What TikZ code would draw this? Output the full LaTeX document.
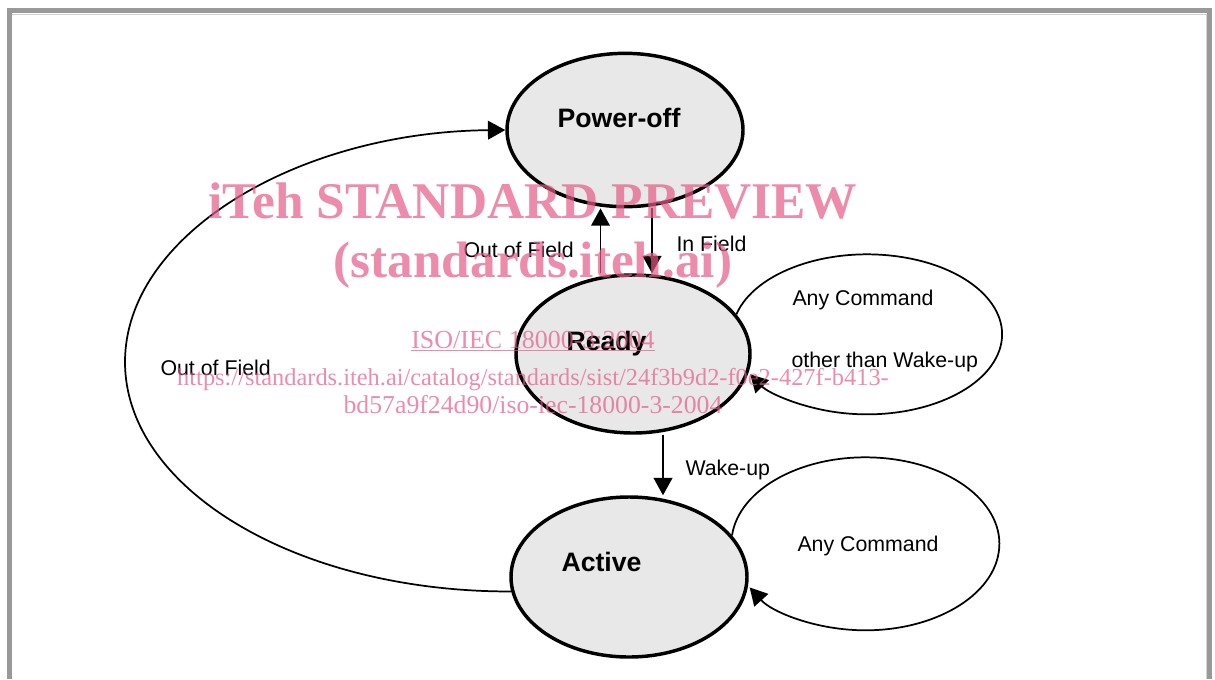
\documentclass[tikz,border=0pt]{standalone}
\usepackage{fontspec}
\setmainfont{Liberation Sans}
\newfontfamily\wmfont{Liberation Serif}
\usetikzlibrary{shapes.geometric,arrows.meta}

\definecolor{framegray}{RGB}{153,153,153}
\definecolor{framelight}{RGB}{210,210,210}
\definecolor{statefill}{RGB}{232,232,232}
\definecolor{wmpink}{RGB}{230,90,134}

\tikzset{
	state/.style={draw, ellipse, fill=statefill, line width=2.6pt, inner sep=0pt},
	statename/.style={font=\fontsize{20}{24}\selectfont\bfseries, anchor=base west, inner sep=0pt},
	edgelabel/.style={font=\fontsize{16}{19}\selectfont, anchor=base west, inner sep=0pt},
	conn/.style={line width=1.3pt},
	watermark/.style={text=wmpink, text opacity=0.7, anchor=base, inner sep=0pt},
	>={Triangle[length=13pt,width=14pt]}}
\tikzset{every picture/.style={line width=0.75pt}}

\begin{document}
\begin{tikzpicture}[x=0.75pt,y=0.75pt,yscale=-1,xscale=1]
	\useasboundingbox (0,0) rectangle (1215,679);

	%Frame
	\draw [framegray, line width=3.75pt, line join=miter] (9.8,679) -- (9.8,10.8) -- (1209.5,10.8) -- (1209.5,679) ;
	\draw [framelight, line width=1pt] (12.3,14.3) -- (1206.3,14.3) -- (1206.3,679) ;

	%States
	\node [state, minimum width=177pt, minimum height=115pt] (poweroff) at (625,130) {};
	\node [state, minimum width=175.5pt, minimum height=118.5pt] (ready) at (633,354) {};
	\node [state, minimum width=177pt, minimum height=120pt] (active) at (629,577) {};

	%Vertical connectors
	\coordinate (outx) at (600.5,0);
	\coordinate (inx) at (652,0);
	\coordinate (wakex) at (663,0);
	\draw [conn, ->] (ready.north -| outx) -- (poweroff.south -| outx) ;
	\draw [conn, ->] (poweroff.south -| inx) -- (ready.north -| inx) ;
	\draw [conn, ->] (ready.south -| wakex) -- (active.north -| wakex) ;

	%Curve back to Power-off
	\coordinate (farleft) at (125,362);
	\draw [conn, ->] (active.187) .. controls (297,592) and (125,489) .. (farleft) .. controls (125,235) and (297,132) .. (poweroff.west) ;

	%Self loops
	\draw [conn, ->] (ready.21) arc [start angle=-165.5, end angle=150, x radius=135, y radius=80] ;
	\draw [conn, ->] (active.22) arc [start angle=-174.4, end angle=149.7, x radius=134, y radius=86.5] ;

	% Text Node
	\node [statename] (poweroff-name) at (557,127) {Power-off};
	\node [statename] (ready-name) at (566,350) {Ready};
	\node [statename] (active-name) at (561,571) {Active};
	% Text Node
	\node [edgelabel] (outlabel) at (463,257) {Out of Field};
	\node [edgelabel] (inlabel) at (676,251) {In Field};
	\node [edgelabel] (backlabel) at (160,375) {Out of Field};
	\node [edgelabel] (wakelabel) at (685,475) {Wake-up};
	\node [edgelabel] (readyloop-a) at (792,305) {Any Command};
	\node [edgelabel] (readyloop-b) at (791,367) {other than Wake-up};
	\node [edgelabel] (activeloop-a) at (797,551) {Any Command};

	%Watermark
	\node [watermark, font={\wmfont\bfseries\fontsize{38.6}{40}\selectfont}] (wmtitle) at (533,218) {iTeh STANDARD PREVIEW};
	\node [watermark, font={\wmfont\bfseries\fontsize{38.4}{40}\selectfont}] (wmsite) at (533,277) {(standards.iteh.ai)};
	\node [watermark, font={\wmfont\fontsize{19.5}{22}\selectfont}] (wmiso) at (533,348) {\underline{ISO/IEC 18000-3:2004}};
	\node [watermark, font={\wmfont\fontsize{18.3}{22}\selectfont}] (wmurl) at (533,385) {https://standards.iteh.ai/catalog/standards/sist/24f3b9d2-f0e2-427f-b413-};
	\node [watermark, font={\wmfont\fontsize{19.3}{22}\selectfont}] (wmdoc) at (533,413) {bd57a9f24d90/iso-iec-18000-3-2004};

\end{tikzpicture}
\end{document}
